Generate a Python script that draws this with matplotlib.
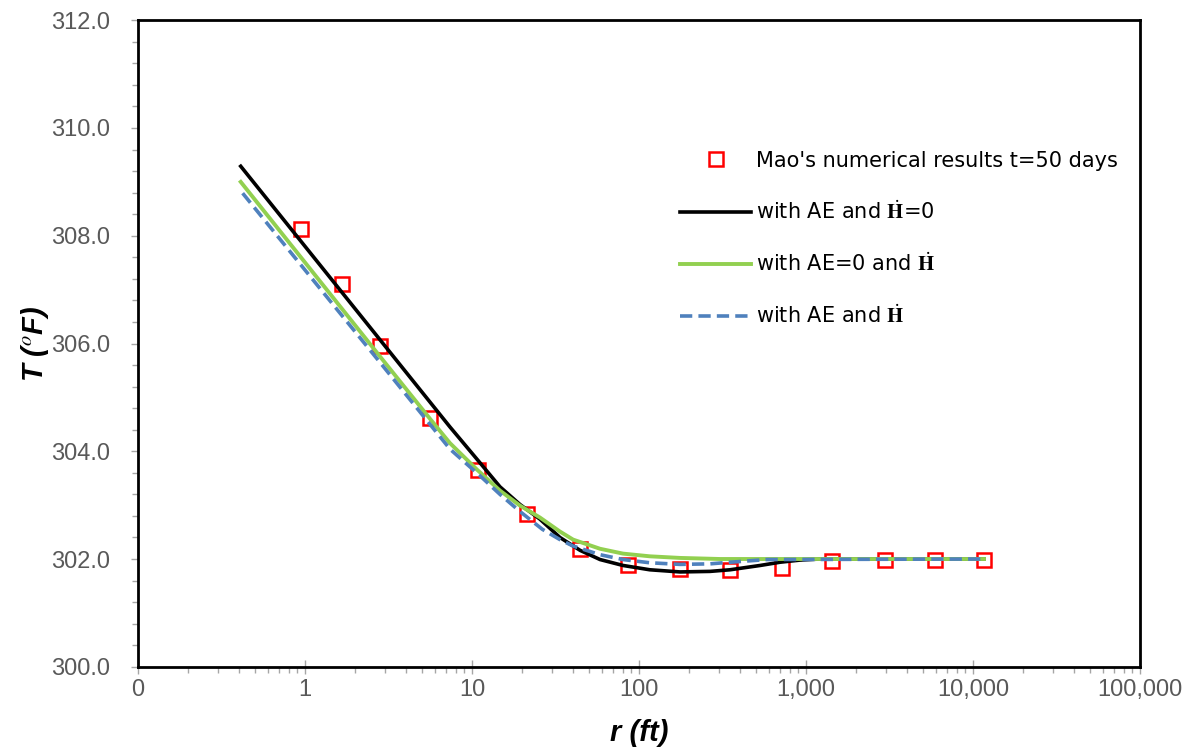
import numpy as np
import matplotlib
matplotlib.use("Agg")
import matplotlib.pyplot as plt
from matplotlib.ticker import FixedLocator, FixedFormatter, MultipleLocator, LogLocator, NullFormatter

plt.rcParams['font.family'] = ['Liberation Sans', 'DejaVu Sans']
plt.rcParams['mathtext.fontset'] = 'stix'

# Mao's numerical results, t = 50 days
r_mao = [0.943, 1.66, 2.81, 5.61, 10.9, 21.3, 44.4, 86, 176, 351, 718, 1432, 2972, 5916, 11640]
T_mao = [308.13, 307.11, 305.95, 304.62, 303.66, 302.83, 302.18, 301.88, 301.82, 301.79,
         301.84, 301.96, 301.99, 301.99, 301.99]

# with AE and H_dot = 0
r_black = [0.412, 2.81, 7.38, 11.2, 14.7, 19.4, 25.5, 33.6, 44.4, 58.4, 80.2, 116, 176, 266,
           351, 531, 698, 920, 1213, 11640]
T_black = [309.29, 306.07, 304.45, 303.78, 303.34, 303.01, 302.74, 302.40, 302.16, 301.99,
           301.88, 301.80, 301.76, 301.77, 301.80, 301.88, 301.94, 301.98, 302.00, 302.00]

# with AE = 0 and H_dot
r_green = [0.412, 2.81, 5.61, 7.38, 10.7, 14.7, 19.4, 25.5, 33.6, 40.3, 58.4, 80.2, 116, 176,
           305, 11640]
T_green = [309.00, 305.76, 304.60, 304.15, 303.66, 303.27, 302.99, 302.77, 302.51, 302.36,
           302.19, 302.10, 302.05, 302.02, 302.00, 302.00]

# with AE and H_dot
r_blue = [0.423, 2.81, 7.38, 11.2, 14.7, 19.4, 26.4, 33.6, 40.3, 58.4, 80.2, 116, 176, 266,
          351, 584, 11640]
T_blue = [308.79, 305.65, 304.04, 303.54, 303.20, 302.88, 302.55, 302.36, 302.24, 302.08,
          301.99, 301.93, 301.90, 301.91, 301.94, 301.99, 302.00]

x_ticks = [0.1, 1, 10, 100, 1000, 10000, 100000]
x_tick_labels = ['0', '1', '10', '100', '1,000', '10,000', '100,000']

fig = plt.figure(figsize=(11.9, 7.5), dpi=100)
ax = fig.add_axes([0.116, 0.111, 0.842, 0.862])

ax.plot(r_mao, T_mao, linestyle='none', marker='s', markersize=10.5, markerfacecolor='white',
        markeredgecolor='#FF0000', markeredgewidth=1.8, zorder=2,
        label="Mao's numerical results t=50 days")
ax.plot(r_black, T_black, color='black', linewidth=2.6, zorder=3, solid_joinstyle='round',
        label=r'with AE and $\dot{\mathbf{H}}$=0')
ax.plot(r_green, T_green, color='#92D050', linewidth=2.8, zorder=4, solid_joinstyle='round',
        label=r'with AE=0 and $\dot{\mathbf{H}}$')
ax.plot(r_blue, T_blue, color='#4F81BD', linewidth=2.6, linestyle=(0, (3.4, 1.7)), zorder=5,
        label=r'with AE and $\dot{\mathbf{H}}$')

ax.set_xscale('log')
ax.set_xlim(0.1, 100000)
ax.set_ylim(300, 312)

ax.xaxis.set_major_locator(FixedLocator(x_ticks))
ax.xaxis.set_major_formatter(FixedFormatter(x_tick_labels))
ax.xaxis.set_minor_locator(LogLocator(base=10, subs=np.arange(2, 10)))
ax.xaxis.set_minor_formatter(NullFormatter())
ax.yaxis.set_major_locator(MultipleLocator(2))
ax.yaxis.set_minor_locator(MultipleLocator(0.4))
ax.yaxis.set_major_formatter(plt.FormatStrFormatter('%.1f'))

ax.tick_params(which='both', direction='out', color='#A6A6A6', labelcolor='#595959',
               labelsize=17, width=1)
ax.tick_params(which='minor', length=4)
ax.tick_params(axis='y', which='major', length=5, pad=15)
ax.tick_params(axis='x', which='major', direction='inout', length=10, pad=4)

for s in ax.spines.values():
    s.set_color('black')
    s.set_linewidth(2)

ax.set_xlabel('r (ft)', fontsize=21, fontweight='bold', style='italic')
ax.xaxis.set_label_coords(0.5, -0.081)
ax.set_ylabel(r'T ($^o$F)', fontsize=21, fontweight='bold', style='italic')
ax.yaxis.set_label_coords(-0.087, 0.5)

leg = ax.legend(loc='upper left', bbox_to_anchor=(0.533, 0.811), frameon=False,
                prop={'family': 'DejaVu Sans', 'size': 15}, handlelength=3.4,
                handletextpad=0.25, labelspacing=1.41, borderaxespad=0)

fig.savefig('out.png', dpi=100)
